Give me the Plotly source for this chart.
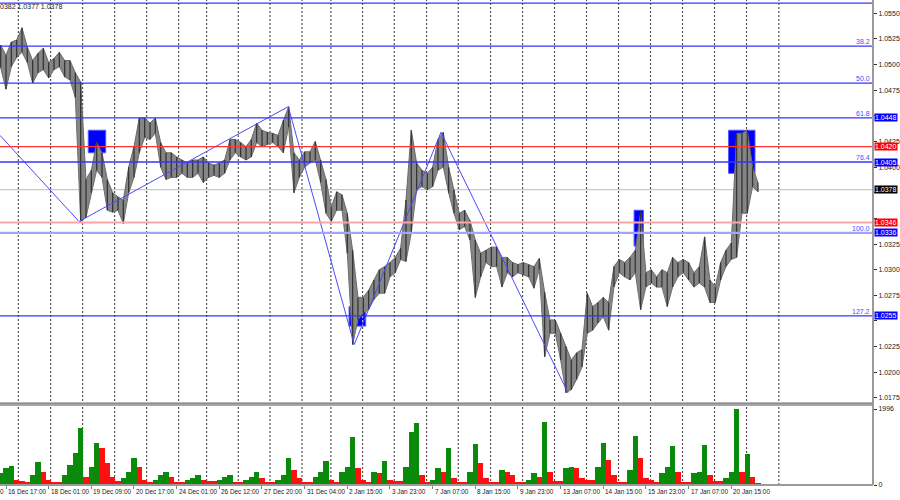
import plotly.graph_objects as go

# ---------------- data ----------------
# H1 bars aggregated in slots of 4 bars; slot k starts at bar index -4 + 4k
slot_start = -4
slot_step = 4

price_high = [
    1.0519, 1.0509, 1.0522, 1.0524, 1.0536, 1.0517, 1.0504, 1.0511, 1.0516, 1.0502,
    1.0506, 1.0512, 1.0504, 1.0504, 1.0492, 1.0483, 1.0388, 1.0397, 1.0424, 1.0414,
    1.0388, 1.0375, 1.0371, 1.0368, 1.0400, 1.0420, 1.0448, 1.0448, 1.0443, 1.0448,
    1.0424, 1.0414, 1.0414, 1.0410, 1.0407, 1.0404, 1.0407, 1.0407, 1.0410, 1.0404,
    1.0402, 1.0404, 1.0407, 1.0427, 1.0427, 1.0424, 1.0420, 1.0427, 1.0443, 1.0436,
    1.0434, 1.0433, 1.0431, 1.0446, 1.0459, 1.0414, 1.0407, 1.0415, 1.0415, 1.0425,
    1.0407, 1.0388, 1.0361, 1.0376, 1.0373, 1.0355, 1.0319, 1.0273, 1.0273, 1.0280,
    1.0290, 1.0300, 1.0303, 1.0307, 1.0312, 1.0321, 1.0368, 1.0436, 1.0404, 1.0397,
    1.0394, 1.0400, 1.0427, 1.0434, 1.0400, 1.0378, 1.0355, 1.0358, 1.0348, 1.0329,
    1.0316, 1.0319, 1.0322, 1.0322, 1.0312, 1.0312, 1.0307, 1.0305, 1.0307, 1.0305,
    1.0303, 1.0311, 1.0278, 1.0251, 1.0251, 1.0238, 1.0225, 1.0212, 1.0219, 1.0222,
    1.0277, 1.0264, 1.0268, 1.0273, 1.0268, 1.0303, 1.0310, 1.0307, 1.0312, 1.0319,
    1.0356, 1.0297, 1.0300, 1.0293, 1.0300, 1.0297, 1.0312, 1.0307, 1.0310, 1.0307,
    1.0297, 1.0303, 1.0332, 1.0290, 1.0283, 1.0307, 1.0319, 1.0326, 1.0433, 1.0433,
    1.0436, 1.0400, 1.0385,
]
price_low = [
    1.0497, 1.0476, 1.0498, 1.0507, 1.0512, 1.0502, 1.0482, 1.0492, 1.0495, 1.0487,
    1.0495, 1.0498, 1.0488, 1.0485, 1.0468, 1.0347, 1.0351, 1.0375, 1.0397, 1.0390,
    1.0358, 1.0356, 1.0358, 1.0345, 1.0375, 1.0390, 1.0414, 1.0429, 1.0427, 1.0433,
    1.0400, 1.0388, 1.0390, 1.0390, 1.0394, 1.0390, 1.0390, 1.0394, 1.0385, 1.0390,
    1.0392, 1.0390, 1.0394, 1.0407, 1.0414, 1.0410, 1.0407, 1.0410, 1.0424, 1.0420,
    1.0422, 1.0424, 1.0420, 1.0414, 1.0439, 1.0375, 1.0390, 1.0400, 1.0404, 1.0407,
    1.0385, 1.0355, 1.0347, 1.0358, 1.0358, 1.0316, 1.0227, 1.0251, 1.0258, 1.0261,
    1.0271, 1.0277, 1.0277, 1.0293, 1.0297, 1.0310, 1.0308, 1.0336, 1.0378, 1.0381,
    1.0378, 1.0381, 1.0397, 1.0400, 1.0375, 1.0355, 1.0339, 1.0342, 1.0329, 1.0273,
    1.0293, 1.0307, 1.0303, 1.0303, 1.0283, 1.0297, 1.0293, 1.0297, 1.0295, 1.0293,
    1.0282, 1.0300, 1.0215, 1.0238, 1.0238, 1.0212, 1.0180, 1.0183, 1.0193, 1.0205,
    1.0238, 1.0241, 1.0248, 1.0254, 1.0241, 1.0283, 1.0297, 1.0293, 1.0290, 1.0297,
    1.0261, 1.0283, 1.0287, 1.0283, 1.0283, 1.0264, 1.0283, 1.0293, 1.0297, 1.0290,
    1.0283, 1.0287, 1.0283, 1.0268, 1.0268, 1.0290, 1.0303, 1.0310, 1.0312, 1.0355,
    1.0355, 1.0381, 1.0376,
]
volume = [
    315, 446, 500, 131, 105, 79, 263, 612, 341, 131,
    79, 79, 263, 525, 840, 1497, 210, 473, 1103, 972,
    578, 210, 105, 184, 341, 709, 473, 131, 79, 131,
    263, 341, 210, 79, 79, 131, 184, 263, 131, 105,
    105, 131, 210, 263, 79, 79, 131, 210, 341, 184,
    79, 79, 131, 263, 709, 394, 184, 79, 79, 210,
    341, 630, 131, 79, 341, 473, 1260, 446, 131, 79,
    341, 315, 630, 131, 105, 105, 473, 1392, 1628, 263,
    79, 131, 446, 341, 972, 184, 79, 79, 341, 1077,
    578, 184, 79, 79, 394, 341, 263, 79, 79, 131,
    315, 210, 1654, 341, 105, 105, 446, 473, 446, 184,
    131, 131, 473, 1103, 656, 263, 79, 79, 394, 1287,
    709, 184, 131, 79, 315, 473, 1024, 341, 79, 79,
    315, 341, 1050, 263, 105, 105, 184, 341, 1996, 341,
    814, 210, 53,
]

tick_pos = [0, 32, 64, 96, 128, 160, 192, 224, 256, 288, 320, 352, 384, 416, 448, 480, 512, 544]
tick_labels = ["16 Dec 17:00", "18 Dec 01:00", "19 Dec 09:00", "20 Dec 17:00", "24 Dec 01:00",
               "26 Dec 12:00", "27 Dec 20:00", "31 Dec 04:00", "2 Jan 15:00", "3 Jan 23:00",
               "7 Jan 07:00", "8 Jan 15:00", "9 Jan 23:00", "13 Jan 07:00", "14 Jan 15:00",
               "15 Jan 23:00", "17 Jan 07:00", "20 Jan 15:00"]
day_grid = [9.2, 33.5, 57.5, 81.5, 105.5, 129.5, 150.5, 174.2, 198, 222, 243.7, 267.5,
            291.2, 315.5, 339.2, 363.5, 387.5, 411.5, 435.5, 459.5, 483.5, 507.5, 531.5,
            555.5, 579.7]
price_ticks = [1.0175, 1.0200, 1.0225, 1.0250, 1.0275, 1.0300, 1.0325, 1.0350, 1.0375,
               1.0400, 1.0425, 1.0450, 1.0475, 1.0500, 1.0525, 1.0550]
hidden_ticks = [1.0250, 1.0350, 1.0375, 1.0450]   # covered by the price tags

# zigzag vertices (bar index, price)
zz_x = [-4.5, 54.75, 211.7, 261.2, 326.25, 421.5]
zz_y = [1.0431, 1.0347, 1.0459, 1.0227, 1.0434, 1.0180]

# fibonacci levels
fib_names = ["23.6", "38.2", "50.0", "61.8", "76.4", "100.0", "127.2"]
fib_prices = [1.0560, 1.0518, 1.0482, 1.0448, 1.0405, 1.0336, 1.0255]
fib_tag_price = [None, None, None, "1.0448", "1.0405", "1.0336", "1.0255"]

# other horizontal levels
red_level = 1.0420
pink_level = 1.0346
bid_level = 1.0378

# blue zones: x0, x1 (bar index), y0, y1 (price)
box_x0 = [61.7, 257.3, 471.1, 541.9]
box_x1 = [74.8, 269.8, 478.1, 561.8]
box_lo = [1.0414, 1.0245, 1.0323, 1.0394]
box_hi = [1.0436, 1.0264, 1.0358, 1.0436]

vol_max_label = 1996

# ---------------- figure ----------------
bar_index = [slot_start + slot_step * k for k in range(len(price_high))]
FONT = "Liberation Sans"
X_RANGE = [-4.5, 650.3]

fig = go.Figure()

# price band
fig.add_trace(go.Scatter(x=bar_index, y=price_low, mode="lines",
                         line=dict(color="#707070", width=1), xaxis="x", yaxis="y",
                         hoverinfo="skip", showlegend=False))
fig.add_trace(go.Scatter(x=bar_index, y=price_high, mode="lines", fill="tonexty",
                         fillcolor="#858585", line=dict(color="#6a6a6a", width=1),
                         xaxis="x", yaxis="y", hoverinfo="skip", showlegend=False))
# price bars
seg_x, seg_y = [], []
for xi, lo, hi in zip(bar_index, price_low, price_high):
    seg_x += [xi, xi, None]
    seg_y += [lo, hi, None]
fig.add_trace(go.Scatter(x=seg_x, y=seg_y, mode="lines",
                         line=dict(color="#363636", width=1.3), xaxis="x", yaxis="y",
                         hoverinfo="skip", showlegend=False))

# zigzag
fig.add_trace(go.Scatter(x=zz_x, y=zz_y, mode="lines", line=dict(color="#4a4aff", width=1),
                         xaxis="x", yaxis="y", hoverinfo="skip", showlegend=False))

# volumes (green if higher than previous bar, red otherwise)
vol_colors = []
for i, v in enumerate(volume):
    if i == 0 or v > volume[i - 1]:
        vol_colors.append("#0a8a0a")
    else:
        vol_colors.append("#ff1010")
fig.add_trace(go.Bar(x=bar_index, y=volume, width=slot_step, marker_color=vol_colors,
                     marker_line_width=0, xaxis="x2", yaxis="y2", hoverinfo="skip",
                     showlegend=False))

shapes = []
# day grid
for g in day_grid:
    shapes.append(dict(type="line", xref="x", yref="paper", x0=g, x1=g, y0=0, y1=1,
                       line=dict(color="#303030", width=1, dash="2px,2px"), layer="below"))
# zones (grid shows through them as yellow dots)
for a, b, lo, hi in zip(box_x0, box_x1, box_lo, box_hi):
    shapes.append(dict(type="rect", xref="x", yref="y", x0=a, x1=b, y0=lo, y1=hi,
                       fillcolor="#0000ff", line=dict(color="#5a5aff", width=1), layer="below"))
    for g in day_grid:
        if a < g < b:
            shapes.append(dict(type="line", xref="x", yref="y", x0=g, x1=g, y0=lo, y1=hi,
                               line=dict(color="#e8e860", width=1, dash="2px,2px"),
                               layer="below"))
# horizontal levels
for name, p in zip(fib_names, fib_prices):
    if name == "100.0":
        ln = dict(color="#a4a4ff", width=2.2)
    else:
        ln = dict(color="#3434ff", width=1.3)
    shapes.append(dict(type="line", xref="paper", yref="y", x0=0, x1=1, y0=p, y1=p,
                       line=ln, layer="above"))
shapes.append(dict(type="line", xref="paper", yref="y", x0=0, x1=1, y0=red_level, y1=red_level,
                   line=dict(color="#ff3434", width=1.3), layer="above"))
shapes.append(dict(type="line", xref="paper", yref="y", x0=0, x1=1, y0=pink_level, y1=pink_level,
                   line=dict(color="#ffa4a4", width=2.2), layer="above"))
shapes.append(dict(type="line", xref="paper", yref="y", x0=0, x1=1, y0=bid_level, y1=bid_level,
                   line=dict(color="#c8c8c8", width=1.2), layer="below"))
# panel separator, frame
sep_lo = (485 - 406) / 485
sep_hi = (485 - 403) / 485
shapes.append(dict(type="rect", xref="paper", yref="paper", x0=0, x1=1, y0=sep_lo, y1=sep_hi,
                   fillcolor="#a6a6a6", line=dict(width=0), layer="above"))
shapes.append(dict(type="line", xref="paper", yref="paper", x0=0, x1=1, y0=sep_hi, y1=sep_hi,
                   line=dict(color="#707070", width=1), layer="above"))
shapes.append(dict(type="line", xref="paper", yref="paper", x0=1, x1=1, y0=0, y1=1,
                   line=dict(color="#9a9a9a", width=2), layer="above"))
shapes.append(dict(type="line", xref="paper", yref="paper", x0=0, x1=1, y0=0, y1=0,
                   line=dict(color="#9a9a9a", width=2), layer="above"))

annotations = []
# fib level names
for name, p in zip(fib_names, fib_prices):
    if name == "23.6":
        continue
    annotations.append(dict(xref="paper", yref="y", x=1, y=p, xanchor="right", yanchor="bottom",
                            text=name, showarrow=False, xshift=-1, yshift=-1,
                            font=dict(family=FONT, size=7, color="#4c4cff")))
# price tags
tags = [(t, p, "#0000ff") for t, p in zip(fib_tag_price, fib_prices) if t is not None]
tags += [("1.0420", red_level, "#ff0000"), ("1.0346", pink_level, "#ff0000"),
         ("1.0378", bid_level, "#000000")]
for t, p, c in tags:
    annotations.append(dict(xref="paper", yref="y", x=1, y=p, xanchor="left", yanchor="middle",
                            text=t, showarrow=False, xshift=1, bgcolor=c, borderpad=0,
                            font=dict(family=FONT, size=7, color="#ffffff")))
# time labels
for tp, tl in zip(tick_pos, tick_labels):
    annotations.append(dict(xref="x2", yref="paper", x=tp, y=0, xanchor="left", yanchor="top",
                            text=tl, showarrow=False, xshift=0, yshift=-1,
                            font=dict(family=FONT, size=6.4, color="#202020")))
annotations.append(dict(xref="paper", yref="paper", x=0, y=0, xanchor="left", yanchor="top",
                        text="0", showarrow=False, xshift=-2, yshift=-1,
                        font=dict(family=FONT, size=6.4, color="#202020")))
# top-left quote text
annotations.append(dict(xref="paper", yref="paper", x=0, y=1, xanchor="left", yanchor="top",
                        text="0382 1.0377 1.0378", showarrow=False, xshift=-2, yshift=-1,
                        font=dict(family=FONT, size=7, color="#202020")))

tick_text = ["" if v in hidden_ticks else f"{v:.4f}" for v in price_ticks]

fig.update_layout(
    width=900, height=500,
    margin=dict(l=0, r=27, t=0, b=15, autoexpand=False),
    paper_bgcolor="#ffffff", plot_bgcolor="#ffffff",
    showlegend=False, bargap=0,
    shapes=shapes, annotations=annotations,
    xaxis=dict(range=X_RANGE, showticklabels=False, showgrid=False, zeroline=False,
               ticks="", anchor="y", fixedrange=True),
    xaxis2=dict(range=X_RANGE, matches="x", showticklabels=False, showgrid=False,
                zeroline=False, anchor="y2", ticks="outside", ticklen=3,
                tickcolor="#808080", tickvals=tick_pos, fixedrange=True),
    yaxis=dict(domain=[sep_hi, 1], range=[1.0170, 1.0563], side="right", showgrid=False,
               zeroline=False, tickvals=price_ticks, ticktext=tick_text,
               ticks="outside", ticklen=3, tickcolor="#303030", automargin=False,
               tickfont=dict(family=FONT, size=7, color="#202020"), anchor="x", fixedrange=True),
    yaxis2=dict(domain=[0, sep_lo], range=[0, vol_max_label * 79 / 76], side="right",
                showgrid=False, zeroline=False, tickvals=[0, vol_max_label],
                ticktext=["0", str(vol_max_label)], ticks="outside", ticklen=3, automargin=False,
                tickcolor="#303030", tickfont=dict(family=FONT, size=7, color="#202020"),
                anchor="x2", fixedrange=True),
)

fig.write_html("out.html", config={"displayModeBar": False},
               post_script="document.body.style.margin='0';")
